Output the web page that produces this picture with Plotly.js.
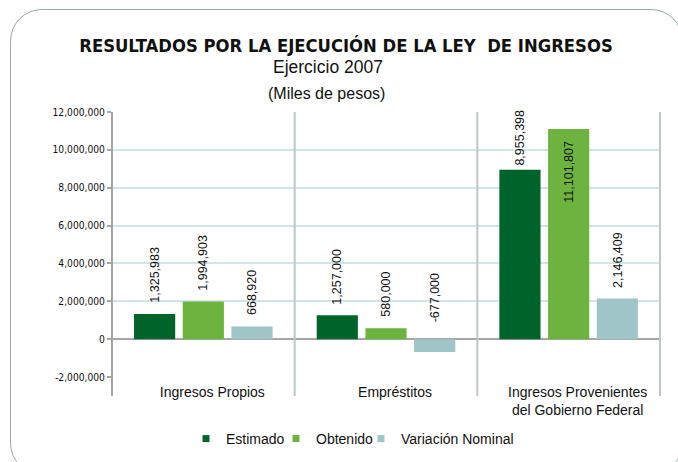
<!DOCTYPE html>
<html><head><meta charset="utf-8">
<script src="https://cdn.plot.ly/plotly-3.0.1.min.js"></script>
<style>
html,body{margin:0;padding:0;background:#fff;overflow:hidden;width:678px;height:462px;}
#frame{position:absolute;left:10px;top:9px;width:673px;height:466px;border:1.3px solid #9aa8a6;border-radius:32px;box-sizing:border-box;}
#chart{position:absolute;left:0;top:0;width:678px;height:462px;}
</style></head><body>
<div id="frame"></div><div id="chart"></div>
<script>
const categories = ['Ingresos Propios', 'Empréstitos', 'Ingresos Provenientes<br>del Gobierno Federal'];
const seriesNames = ['Estimado', 'Obtenido', 'Variación Nominal'];
const estimado = [1325983, 1257000, 8955398];
const obtenido = [1994903, 580000, 11101807];
const variacion = [668920, -677000, 2146409];
const yTickValues = [-2000000, 0, 2000000, 4000000, 6000000, 8000000, 10000000, 12000000];
const yTickLabels = ['-2,000,000', '0', '2,000,000', '4,000,000', '6,000,000', '8,000,000', '10,000,000', '12,000,000'];

const series = [estimado, obtenido, variacion];
const colors = ['#00632a', '#6db33f', '#9fc5c8'];

const W = 678, H = 462;
const M = {l: 112, r: 18, t: 112, b: 85, autoexpand: false};
const plotW = W - M.l - M.r, plotH = H - M.t - M.b;
const bargap = 0.2, bargroupgap = 0.155;
const slot = plotW / categories.length * (1 - bargap) / series.length;
const offsets = series.map((s, k) => (k - (series.length - 1) / 2) * slot);

const COND = '"DejaVu Sans Condensed", "Liberation Sans Narrow", "Liberation Sans", sans-serif';
const REG = '"Liberation Sans", Arial, sans-serif';

// legend entry widths (layout only)
const legendWidths = [45, 40, 120];

const traces = [];
series.forEach((vals, k) => {
  traces.push({
    type: 'bar', x: categories, y: vals, name: seriesNames[k],
    marker: {color: colors[k], line: {width: 0}},
    showlegend: false, hoverinfo: 'x+y'
  });
});
series.forEach((vals, k) => {
  traces.push({
    type: 'scatter', mode: 'markers', x: [categories[0]], y: [null], name: seriesNames[k],
    marker: {symbol: 'square', size: 7, color: colors[k]}, showlegend: true, hoverinfo: 'skip',
    legendwidth: legendWidths[k]
  });
});

// label placement tweaks (not data)
const labelAdjust = {'1-2': {inside: true}, '2-1': {yshift: 15}, '0-2': {yshift: 2}};

const annotations = [];
series.forEach((vals, k) => {
  vals.forEach((v, i) => {
    const adj = labelAdjust[k + '-' + i] || {};
    const inside = !!adj.inside;
    annotations.push({
      xref: 'x', yref: 'y', x: categories[i], y: Math.max(v, 0),
      xshift: offsets[k],
      yshift: inside ? -10 : (adj.yshift !== undefined ? adj.yshift : 9),
      yanchor: inside ? 'top' : 'bottom', xanchor: 'center',
      text: v.toLocaleString('en-US'), textangle: -90, showarrow: false,
      font: {family: REG, size: 12.5, color: '#111'}
    });
  });
});
annotations.push({
  xref: 'paper', yref: 'paper', x: (328 - M.l) / plotW, y: (H - M.b - 67.5) / plotH,
  xanchor: 'center', yanchor: 'middle', showarrow: false,
  text: 'Ejercicio 2007', font: {family: REG, size: 17.5, color: '#111'}
});
annotations.push({
  xref: 'paper', yref: 'paper', x: (326 - M.l) / plotW, y: (H - M.b - 93) / plotH,
  xanchor: 'center', yanchor: 'middle', showarrow: false,
  text: '(Miles de pesos)', font: {family: REG, size: 16, color: '#111'}
});

const shapes = [];
const ext = -19 / plotH;
for (let b = 0; b <= categories.length; b++) {
  shapes.push({
    type: 'line', xref: 'paper', yref: 'paper', x0: b / categories.length, x1: b / categories.length,
    y0: ext, y1: 1, layer: 'above',
    line: {color: b === 0 ? '#a3a3a3' : '#bcc8c5', width: 2}
  });
}

const layout = {
  width: W, height: H, margin: M,
  paper_bgcolor: 'rgba(0,0,0,0)', plot_bgcolor: 'rgba(0,0,0,0)',
  title: {
    text: '<b>RESULTADOS POR LA EJECUCIÓN DE LA LEY  DE INGRESOS</b>',
    font: {family: COND, size: 18.3, color: '#111'},
    x: 346 / W, xanchor: 'center', xref: 'container',
    y: 1 - 45.5 / H, yanchor: 'middle', yref: 'container'
  },
  barmode: 'group', bargap: bargap, bargroupgap: bargroupgap,
  showlegend: true,
  legend: {
    orientation: 'h', x: (186 - M.l) / plotW, xanchor: 'left',
    y: (H - M.b - 439) / plotH, yanchor: 'middle',
    font: {family: REG, size: 14, color: '#111'}, bgcolor: 'rgba(0,0,0,0)'
  },
  xaxis: {
    type: 'category', range: [-0.5, categories.length - 0.5], showgrid: false, ticks: '',
    showline: false, zeroline: false, ticklabelshift: 9, ticklabelstandoff: 5, automargin: false,
    tickfont: {family: REG, size: 14, color: '#111'}, fixedrange: true
  },
  yaxis: {
    range: [-2000000, 12000000], tickmode: 'array', tickvals: yTickValues, ticktext: yTickLabels,
    showgrid: true, gridcolor: '#d2e5e5', gridwidth: 2,
    zeroline: true, zerolinecolor: '#a6a6a6', zerolinewidth: 2.5, automargin: false,
    ticks: 'outside', ticklen: 4, tickwidth: 2, tickcolor: '#a6a6a6',
    showline: false, tickfont: {family: COND, size: 10.2, color: '#111'}, fixedrange: true
  },
  annotations: annotations,
  shapes: shapes
};

Plotly.newPlot('chart', traces, layout, {displayModeBar: false, staticPlot: true});
</script>
</body></html>
